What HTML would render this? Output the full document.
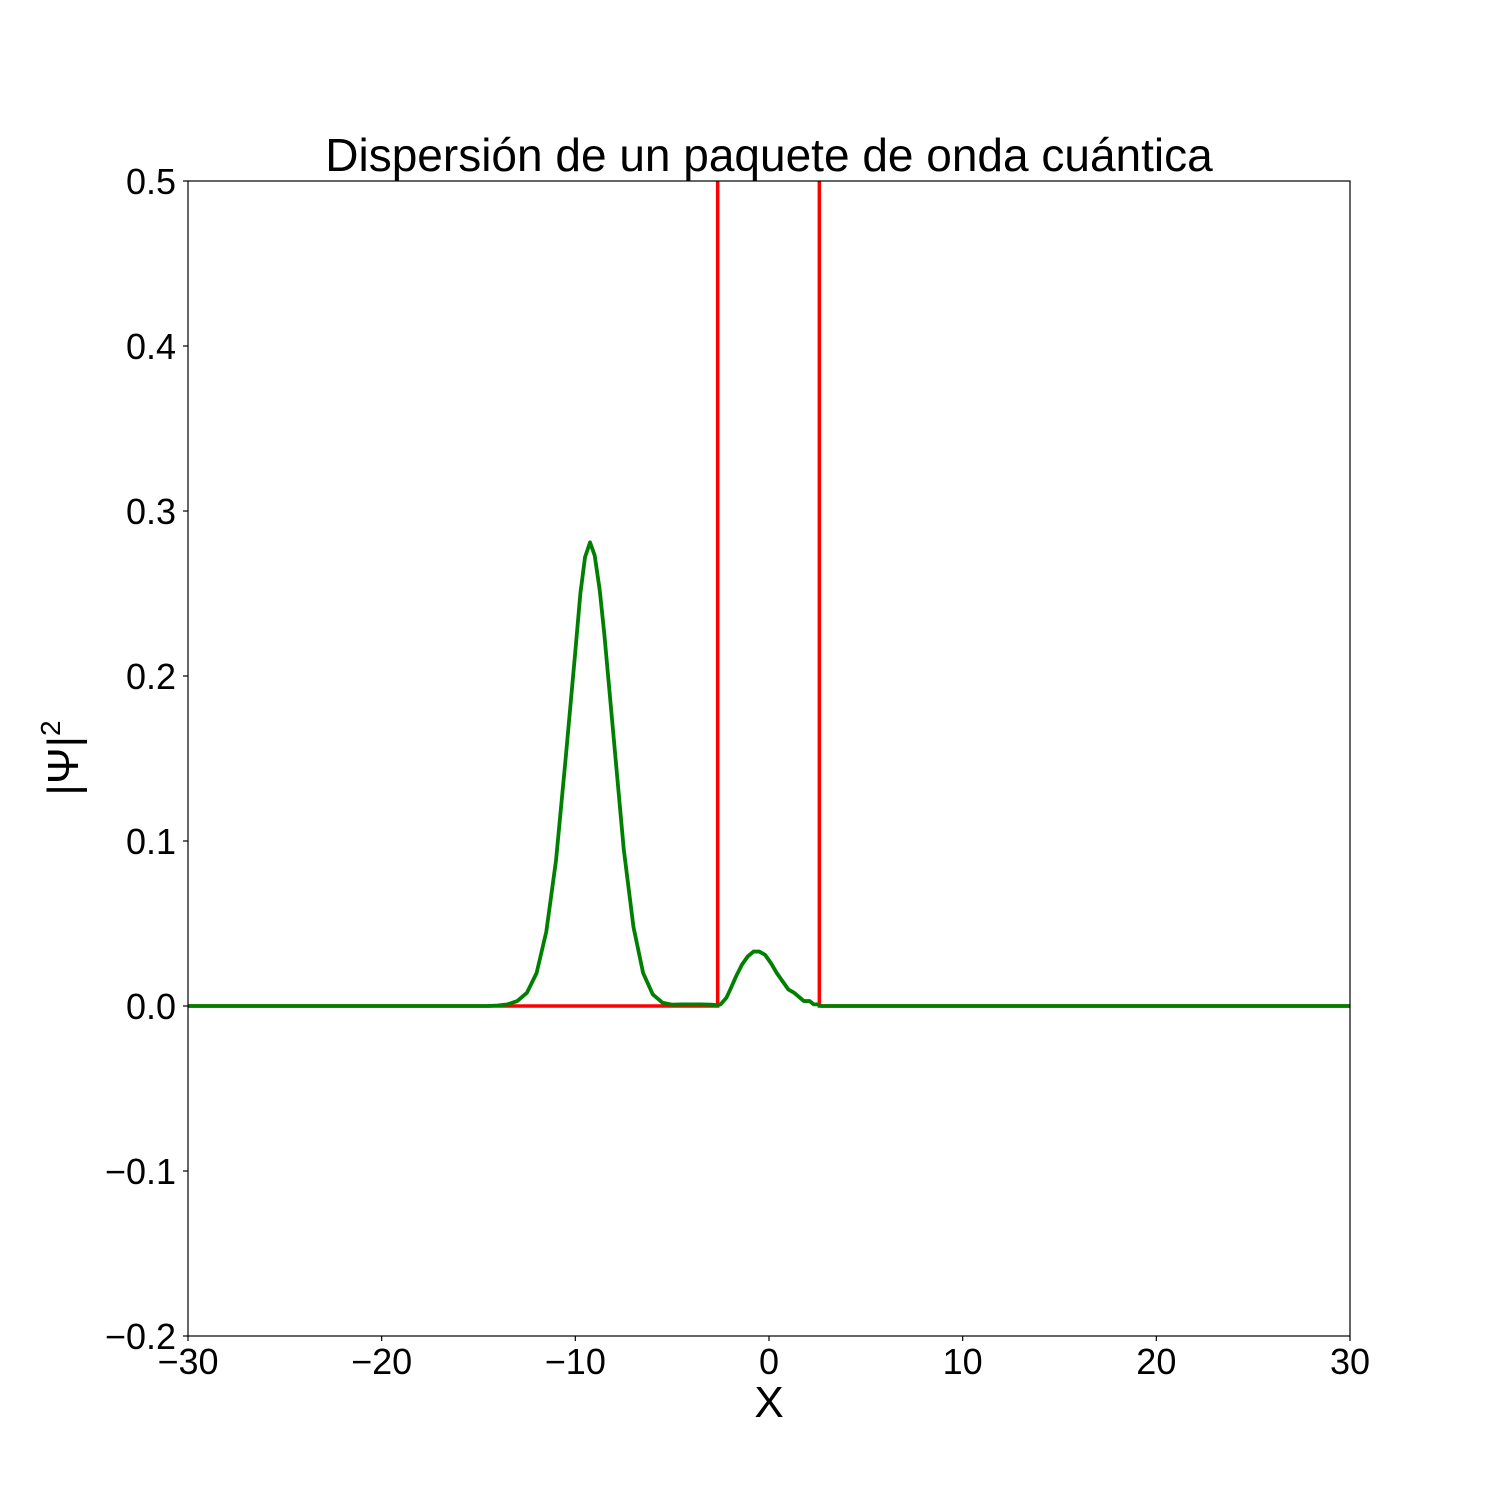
<!DOCTYPE html>
<html><head><meta charset="utf-8"><style>
html,body{margin:0;padding:0;background:#fff;}
svg{display:block;font-family:"Liberation Sans","DejaVu Sans",sans-serif;}
</style></head><body>
<svg id="chart" width="1500" height="1500" xmlns="http://www.w3.org/2000/svg">
<rect width="1500" height="1500" fill="#fff"/>
<text x="769" y="171" font-size="46" text-anchor="middle">Dispersión de un paquete de onda cuántica</text>
<g id="plot"></g>
<g id="xt"></g>
<g id="yt"></g>
<text x="769" y="1417" font-size="44" text-anchor="middle">X</text>
<text transform="translate(78,758) rotate(-90)" font-size="44" text-anchor="middle">|Ψ|<tspan font-size="28" dy="-18">2</tspan></text>
</svg>
<script>
const xTicks=[-30,-20,-10,0,10,20,30];
const yTicks=[-0.2,-0.1,0.0,0.1,0.2,0.3,0.4,0.5];
const barrierX=[-2.65,2.6];
const barrierHeight=1.0;
const waveX=[-30,-14.5,-14,-13.5,-13,-12.5,-12,-11.5,-11,-10.5,-10,-9.74,-9.5,-9.24,-9,-8.74,-8.5,-8,-7.5,-7,-6.5,-6,-5.5,-5,-4.5,-4,-3.5,-3,-2.7,-2.5,-2.2,-2.0,-1.7,-1.4,-1.1,-0.8,-0.5,-0.2,0.1,0.4,0.7,1.0,1.3,1.6,1.8,2.1,2.3,2.5,2.7,3,30];
const waveY=[0,0,0.0003,0.0010,0.003,0.008,0.020,0.045,0.088,0.150,0.215,0.250,0.272,0.281,0.273,0.252,0.225,0.160,0.095,0.048,0.020,0.007,0.002,0.0008,0.001,0.001,0.001,0.0008,0.0005,0.001,0.005,0.010,0.018,0.025,0.030,0.033,0.033,0.031,0.026,0.020,0.015,0.010,0.008,0.005,0.003,0.003,0.001,0.001,0,0,0];
const L=188,R=1350,T=181,B=1336,xmin=-30,xmax=30,ymin=-0.2,ymax=0.5;
const sx=v=>L+(v-xmin)/(xmax-xmin)*(R-L);
const sy=v=>B-(v-ymin)/(ymax-ymin)*(B-T);
const NS="http://www.w3.org/2000/svg";
function mk(tag,attrs,parent){const e=document.createElementNS(NS,tag);for(const k in attrs)e.setAttribute(k,attrs[k]);parent.appendChild(e);return e;}
const plot=document.getElementById('plot');
const defs=mk('defs',{},plot);
const cp=mk('clipPath',{id:'clip'},defs);
mk('rect',{x:L,y:T,width:R-L,height:B-T},cp);
const g=mk('g',{'clip-path':'url(#clip)'},plot);
const bp=`M${sx(xmin)},${sy(0)} L${sx(barrierX[0])},${sy(0)} L${sx(barrierX[0])},${sy(barrierHeight)} L${sx(barrierX[1])},${sy(barrierHeight)} L${sx(barrierX[1])},${sy(0)} L${sx(xmax)},${sy(0)}`;
const barrier=mk('path',{d:bp,fill:'none',stroke:'#ff0000','stroke-width':3.5},g);


const pts=waveX.map((x,i)=>sx(x)+','+sy(waveY[i])).join(' ');
const wave=mk('polyline',{points:pts,fill:'none',stroke:'#008000','stroke-width':3.8,'stroke-linejoin':'round'},g);


const frame=mk('rect',{x:L,y:T,width:R-L,height:B-T,fill:'none',stroke:'#000','stroke-width':1.2},plot);


const xt=document.getElementById('xt'),yt=document.getElementById('yt');
const fmt=v=>(v<0?'−':'')+Math.abs(v);
xTicks.forEach(v=>{
 const t=mk('line',{x1:sx(v),x2:sx(v),y1:B,y2:B+5,stroke:'#000','stroke-width':1.2},xt);
 
 
 const l=mk('text',{x:sx(v),y:B+38,'font-size':36,'text-anchor':'middle'},xt);
 l.textContent=fmt(v);
 
 
});
yTicks.forEach(v=>{
 const t=mk('line',{x1:L-5,x2:L,y1:sy(v),y2:sy(v),stroke:'#000','stroke-width':1.2},yt);
 
 
 const l=mk('text',{x:L-12,y:sy(v)+13,'font-size':36,'text-anchor':'end'},yt);
 l.textContent=(v<0?'−':'')+Math.abs(v).toFixed(1);
 
 
});
</script>
</body></html>
